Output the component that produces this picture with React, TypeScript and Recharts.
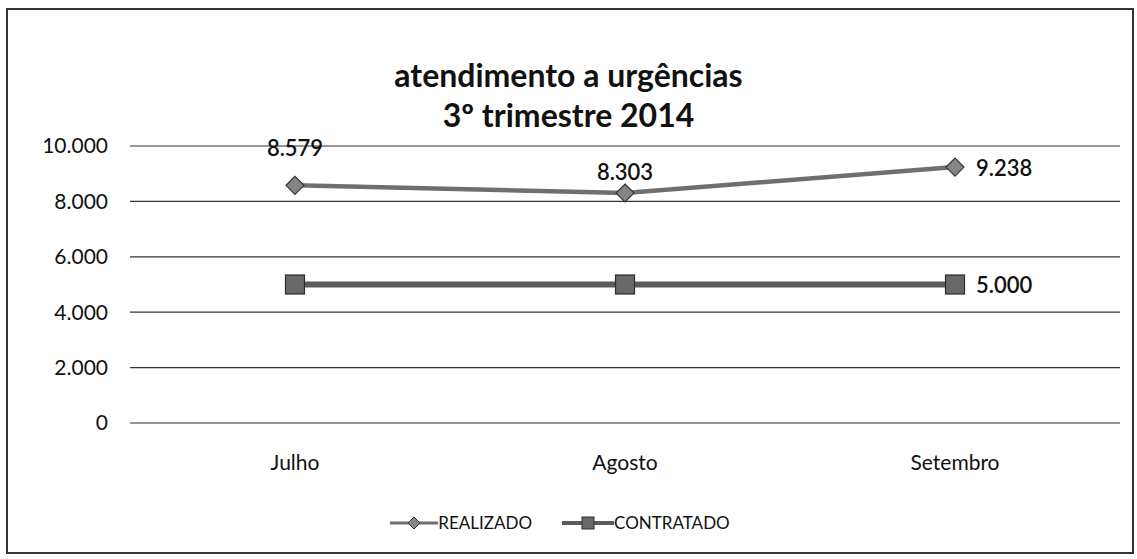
import { LineChart, Line, XAxis, YAxis, CartesianGrid, Legend, LabelList } from "recharts";

const months = ["Julho", "Agosto", "Setembro"];
const realizado = [8579, 8303, 9238];
const contratado = [5000, 5000, 5000];
const yTicks = [0, 2000, 4000, 6000, 8000, 10000];

const data = months.map((m, i) => ({ month: m, realizado: realizado[i], contratado: contratado[i] }));

const font = "Lato, 'Open Sans', sans-serif";

// 8579 -> "8.579"
const fmt = (v: number) => String(Math.round(v)).replace(/\B(?=(\d{3})+(?!\d))/g, ".");

const Diamond = (props: any) => {
  const { cx, cy } = props;
  if (cx == null || cy == null) return null;
  const r = 9;
  return (
    <path
      d={`M${cx},${cy - r} L${cx + r},${cy} L${cx},${cy + r} L${cx - r},${cy} Z`}
      fill="#858585"
      stroke="#333"
      strokeWidth={1.2}
    />
  );
};

const Square = (props: any) => {
  const { cx, cy } = props;
  if (cx == null || cy == null) return null;
  const s = 9.5;
  return <rect x={cx - s} y={cy - s} width={s * 2} height={s * 2} fill="#686868" stroke="#2e2e2e" strokeWidth={1.2} />;
};

const RealLabel = (props: any) => {
  const { x, y, value, index } = props;
  let dx = 0;
  let dy = -22;
  let anchor: "middle" | "start" = "middle";
  if (index === 0) dy = -38;
  if (index === 2) {
    dx = 21;
    dy = 0;
    anchor = "start";
  }
  return (
    <text x={x + dx} y={y + dy} textAnchor={anchor} dominantBaseline="central" fontSize={22} fontWeight={600} fill="#111" fontFamily={font}>
      {fmt(value)}
    </text>
  );
};

const ContLabel = (props: any) => {
  const { x, y, value, index } = props;
  if (index !== contratado.length - 1) return null;
  return (
    <text x={x + 21} y={y} textAnchor="start" dominantBaseline="central" fontSize={22} fontWeight={600} fill="#111" fontFamily={font}>
      {fmt(value)}
    </text>
  );
};

const LegendContent = () => (
  <div style={{ display: "flex", justifyContent: "center", gap: 30, fontFamily: font, fontSize: 17, color: "#111" }}>
    <span style={{ display: "flex", alignItems: "center" }}>
      <svg width={48} height={14}>
        <line x1={0} y1={7} x2={48} y2={7} stroke="#6f6f6f" strokeWidth={3} />
        <path d="M24,1 L30,7 L24,13 L18,7 Z" fill="#858585" stroke="#333" />
      </svg>
      REALIZADO
    </span>
    <span style={{ display: "flex", alignItems: "center" }}>
      <svg width={52} height={14}>
        <line x1={0} y1={7} x2={52} y2={7} stroke="#5c5c5c" strokeWidth={4} />
        <rect x={20} y={1} width={12} height={12} fill="#686868" stroke="#2e2e2e" />
      </svg>
      CONTRATADO
    </span>
  </div>
);

export default function App() {
  return (
    <div style={{ position: "absolute", left: 0, top: 0, width: 1137, height: 559, background: "#fff" }}>
      <div
        style={{
          position: "absolute",
          left: 6,
          top: 8,
          width: 1124,
          height: 542,
          border: "2px solid #333",
        }}
      />
      <div
        style={{
          position: "absolute",
          left: 0,
          top: 55,
          width: 1137,
          textAlign: "center",
          fontFamily: font,
          fontWeight: 700,
          fontSize: 32,
          lineHeight: "40px",
          color: "#111",
        }}
      >
        atendimento a urgências
        <br />
        3º trimestre 2014
      </div>
      <div style={{ position: "absolute", left: 0, top: 0 }}>
        <LineChart width={1137} height={559} data={data} margin={{ top: 146, right: 17, bottom: 63, left: 0 }}>
          <CartesianGrid vertical={false} stroke="#333" strokeWidth={1.2} />
          <XAxis
            dataKey="month"
            axisLine={false}
            tickLine={false}
            height={52}
            padding={{ left: 165, right: 165 }}
            tick={{ fontSize: 21, fill: "#111", fontFamily: font, dy: 24 }}
          />
          <YAxis
            width={130}
            domain={[0, 10000]}
            ticks={yTicks}
            axisLine={false}
            tickLine={false}
            tickFormatter={fmt}
            tick={{ fontSize: 21, fill: "#111", fontFamily: font, dx: -14 }}
          />
          <Legend verticalAlign="bottom" content={<LegendContent />} wrapperStyle={{ bottom: 26 }} />
          <Line
            type="linear"
            dataKey="realizado"
            name="REALIZADO"
            stroke="#6f6f6f"
            strokeWidth={4.5}
            dot={<Diamond />}
            activeDot={false}
            isAnimationActive={false}
          >
            <LabelList dataKey="realizado" content={<RealLabel />} />
          </Line>
          <Line
            type="linear"
            dataKey="contratado"
            name="CONTRATADO"
            stroke="#5c5c5c"
            strokeWidth={6}
            dot={<Square />}
            activeDot={false}
            isAnimationActive={false}
          >
            <LabelList dataKey="contratado" content={<ContLabel />} />
          </Line>
        </LineChart>
      </div>
    </div>
  );
}
